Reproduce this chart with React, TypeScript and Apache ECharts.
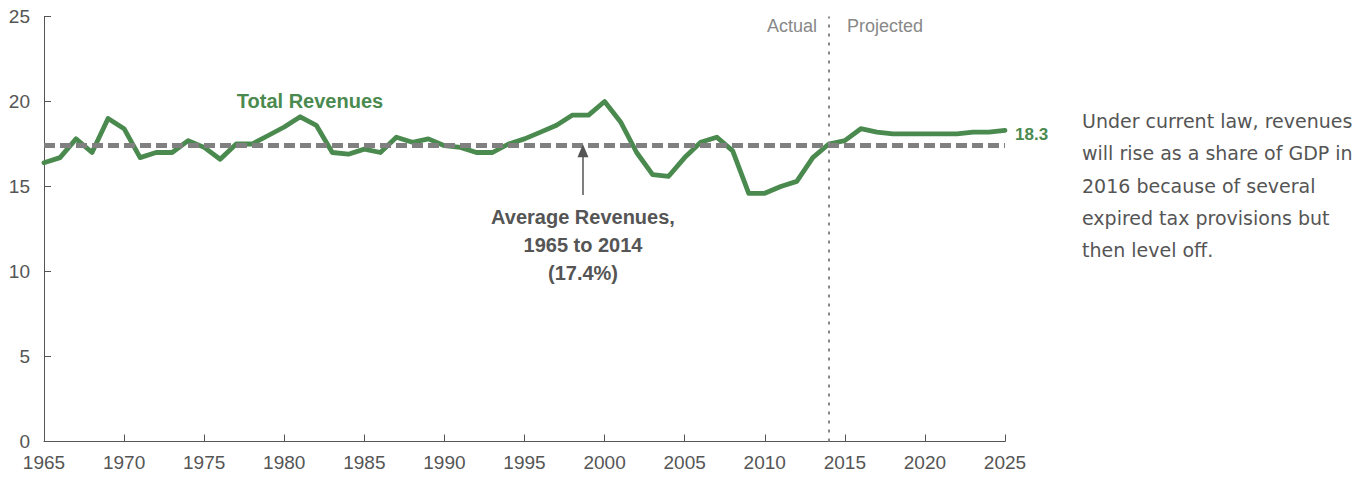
import React, { useEffect, useRef } from "react";
import * as echarts from "echarts";

const years: number[] = [
  1965, 1966, 1967, 1968, 1969, 1970, 1971, 1972, 1973, 1974,
  1975, 1976, 1977, 1978, 1979, 1980, 1981, 1982, 1983, 1984,
  1985, 1986, 1987, 1988, 1989, 1990, 1991, 1992, 1993, 1994,
  1995, 1996, 1997, 1998, 1999, 2000, 2001, 2002, 2003, 2004,
  2005, 2006, 2007, 2008, 2009, 2010, 2011, 2012, 2013, 2014,
  2015, 2016, 2017, 2018, 2019, 2020, 2021, 2022, 2023, 2024, 2025,
];
const revenues: number[] = [
  16.4, 16.7, 17.8, 17.0, 19.0, 18.4, 16.7, 17.0, 17.0, 17.7,
  17.3, 16.6, 17.5, 17.5, 18.0, 18.5, 19.1, 18.6, 17.0, 16.9,
  17.2, 17.0, 17.9, 17.6, 17.8, 17.4, 17.3, 17.0, 17.0, 17.5,
  17.8, 18.2, 18.6, 19.2, 19.2, 20.0, 18.8, 17.0, 15.7, 15.6,
  16.7, 17.6, 17.9, 17.1, 14.6, 14.6, 15.0, 15.3, 16.7, 17.5,
  17.7, 18.4, 18.2, 18.1, 18.1, 18.1, 18.1, 18.1, 18.2, 18.2, 18.3,
];
const averageRevenue = 17.4;
const lastActualYear = 2014;
const xTicks = { min: 1965, max: 2025, interval: 5 };
const yTicks = { min: 0, max: 25, interval: 5 };
const arrowFrom: [number, number] = [1998.65, 14.5];
const arrowTo: [number, number] = [1998.65, 17.1];

const GREEN = "#4b8a4f";
const AXIS = "#555555";
const SANS = "'Liberation Sans', Arial, sans-serif";

export default function App() {
  const ref = useRef<HTMLDivElement>(null);
  useEffect(() => {
    if (!ref.current) return;
    const chart = echarts.init(ref.current, undefined, { renderer: "svg" });
    const data = years.map((y, i) => [y, revenues[i]]);
    chart.setOption({
      animation: false,
      grid: { left: 44, right: 361, top: 16.5, bottom: 38.5, containLabel: false },
      xAxis: {
        type: "value",
        min: xTicks.min,
        max: xTicks.max,
        interval: xTicks.interval,
        splitLine: { show: false },
        axisLine: { show: true, lineStyle: { color: AXIS, width: 1 } },
        axisTick: { show: true, inside: true, length: 7, lineStyle: { color: AXIS } },
        axisLabel: {
          color: AXIS,
          fontFamily: SANS,
          fontSize: 19,
          margin: 11,
          formatter: (v: number) => String(v),
        },
      },
      yAxis: {
        type: "value",
        min: yTicks.min,
        max: yTicks.max,
        interval: yTicks.interval,
        splitLine: { show: false },
        axisLine: { show: true, lineStyle: { color: AXIS, width: 1 } },
        axisTick: { show: true, inside: true, length: 7, lineStyle: { color: AXIS } },
        axisLabel: { color: AXIS, fontFamily: SANS, fontSize: 19, margin: 14 },
      },
      series: [
        {
          type: "line",
          data,
          symbol: "none",
          lineStyle: { color: GREEN, width: 4.8, cap: "round", join: "round" },
          z: 3,
          endLabel: {
            show: true,
            formatter: (p: any) => String(p.value[1].toFixed(1)),
            color: GREEN,
            fontFamily: SANS,
            fontWeight: "bold",
            fontSize: 17,
            distance: 10,
            offset: [0, 4],
          },
          markLine: {
            silent: true,
            symbol: "none",
            label: { show: false },
            data: [
              {
                yAxis: averageRevenue,
                lineStyle: { color: "#808080", width: 5, type: [11, 5] },
              },
              {
                xAxis: lastActualYear,
                lineStyle: { color: "#888888", width: 2, type: [3, 6] },
              },
              [
                {
                  coord: arrowFrom,
                  symbol: "none",
                  lineStyle: { color: "#555555", width: 1.5, type: "solid" },
                },
                { coord: arrowTo, symbol: "triangle", symbolSize: [11, 13] },
              ],
            ],
          },
        },
      ],
      graphic: [
        {
          type: "text",
          x: 310,
          y: 101,
          style: {
            text: "Total Revenues",
            fill: GREEN,
            font: "bold 20px 'Liberation Sans', Arial, sans-serif",
            textAlign: "center",
            textVerticalAlign: "middle",
          },
        },
        {
          type: "text",
          x: 583,
          y: 203,
          style: {
            text: "Average Revenues,\n1965 to 2014\n(17.4%)",
            fill: "#555555",
            font: "bold 20px 'Liberation Sans', Arial, sans-serif",
            lineHeight: 28,
            textAlign: "center",
            textVerticalAlign: "top",
          },
        },
        {
          type: "text",
          x: 817,
          y: 26,
          style: {
            text: "Actual",
            fill: "#888888",
            font: "18px 'Liberation Sans', Arial, sans-serif",
            textAlign: "right",
            textVerticalAlign: "middle",
          },
        },
        {
          type: "text",
          x: 847,
          y: 26,
          style: {
            text: "Projected",
            fill: "#888888",
            font: "18px 'Liberation Sans', Arial, sans-serif",
            textAlign: "left",
            textVerticalAlign: "middle",
          },
        },
        {
          type: "text",
          x: 1082,
          y: 105,
          style: {
            text:
              "Under current law, revenues\nwill rise as a share of GDP in\n2016 because of several\nexpired tax provisions but\nthen level off.",
            fill: "#555555",
            font: "19px 'DejaVu Sans', sans-serif",
            lineHeight: 32.3,
            textAlign: "left",
            textVerticalAlign: "top",
          },
        },
      ],
    });
    return () => chart.dispose();
  }, []);
  return (
    <div
      ref={ref}
      style={{ position: "fixed", left: 0, top: 0, width: 1366, height: 480, background: "#fff" }}
    />
  );
}
